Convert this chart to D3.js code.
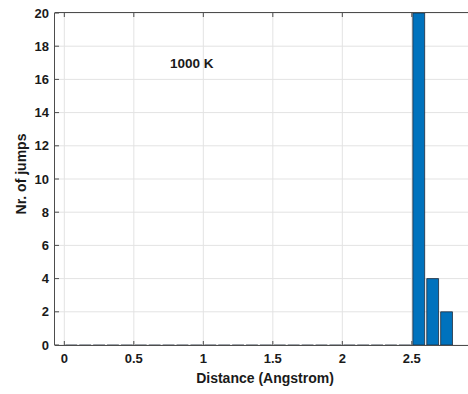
<!DOCTYPE html>
<html>
<head>
<meta charset="utf-8">
<script src="https://cdn.jsdelivr.net/npm/d3@7"></script>
<style>
  body { margin: 0; background: #fff; }
  svg text { font-family: "Liberation Sans", Arial, sans-serif; font-weight: bold; fill: #1a1a1a; }
</style>
</head>
<body>
<div id="chart"></div>
<script>
// histogram bins (Angstrom), width 0.1
var binStarts = [0, 0.1, 0.2, 0.3, 0.4, 0.5, 0.6, 0.7, 0.8, 0.9, 1.0, 1.1, 1.2, 1.3,
                 1.4, 1.5, 1.6, 1.7, 1.8, 1.9, 2.0, 2.1, 2.2, 2.3, 2.4, 2.5, 2.6, 2.7];
var counts = [0, 0, 0, 0, 0, 0, 0, 0, 0, 0, 0, 0, 0, 0,
              0, 0, 0, 0, 0, 0, 0, 0, 0, 0, 0, 20, 4, 2];
var binWidth = 0.1;
var xTicks = [0, 0.5, 1, 1.5, 2, 2.5];
var yTicks = [0, 2, 4, 6, 8, 10, 12, 14, 16, 18, 20];
var annotation = "1000 K";

var width = 468, height = 394,
    margin = { top: 13, right: -4, bottom: 49, left: 55 };

var svg = d3.select("#chart").append("svg")
    .attr("width", width).attr("height", height);

var x = d3.scaleLinear().domain([-0.067, 2.9]).range([margin.left, margin.left + (2.967 * 139)]);
var y = d3.scaleLinear().domain([0, 20]).range([height - margin.bottom, margin.top]);

var x0 = margin.left, x1 = width + 2, y0 = y(0), y1 = y(20);

// grid
svg.append("g").selectAll("line.gx").data(xTicks).enter().append("line")
    .attr("x1", d => x(d)).attr("x2", d => x(d))
    .attr("y1", y0).attr("y2", y1)
    .attr("stroke", "#e3e3e3").attr("stroke-width", 1);
svg.append("g").selectAll("line.gy").data(yTicks).enter().append("line")
    .attr("x1", x0).attr("x2", x1)
    .attr("y1", d => y(d)).attr("y2", d => y(d))
    .attr("stroke", "#e3e3e3").attr("stroke-width", 1);

// bars (0.85 of bin width, centred)
var barW = binWidth * 0.85;
svg.append("g").selectAll("path").data(counts).enter().append("path")
    .attr("d", function(d, i) {
        var c = binStarts[i] + binWidth / 2;
        var l = x(c - barW / 2), r = x(c + barW / 2);
        return "M" + l + "," + y(0) + "V" + y(d) + "H" + r + "V" + y(0) + (d > 0 ? "Z" : "");
    })
    .attr("fill", d => d > 0 ? "#0072BD" : "none")
    .attr("stroke", "#1f2b3a")
    .attr("stroke-width", 0.8);

// axes: box with inward ticks
var axisColor = "#4d4d4d";
var ax = svg.append("g");
ax.append("line").attr("x1", x0).attr("x2", x1).attr("y1", y0 + 0.5).attr("y2", y0 + 0.5)
    .attr("stroke", axisColor);
ax.append("line").attr("x1", x0).attr("x2", x1).attr("y1", y1 - 0.5).attr("y2", y1 - 0.5)
    .attr("stroke", axisColor);
ax.append("line").attr("x1", x0 - 0.5).attr("x2", x0 - 0.5).attr("y1", y1 - 0.5).attr("y2", y0 + 0.5)
    .attr("stroke", axisColor);

xTicks.forEach(function(t) {
    ax.append("line").attr("x1", x(t)).attr("x2", x(t)).attr("y1", y0).attr("y2", y0 - 4).attr("stroke", axisColor);
    ax.append("line").attr("x1", x(t)).attr("x2", x(t)).attr("y1", y1).attr("y2", y1 + 4).attr("stroke", axisColor);
    ax.append("text").attr("x", x(t)).attr("y", y0 + 18)
        .attr("text-anchor", "middle").attr("font-size", "13px").text(t);
});
yTicks.forEach(function(t) {
    ax.append("line").attr("x1", x0).attr("x2", x0 + 4).attr("y1", y(t)).attr("y2", y(t)).attr("stroke", axisColor);
    ax.append("text").attr("x", x0 - 6).attr("y", y(t) + 4.5)
        .attr("text-anchor", "end").attr("font-size", "13px").text(t);
});

// labels
svg.append("text").attr("x", 265).attr("y", 383)
    .attr("text-anchor", "middle").attr("font-size", "14px").text("Distance (Angstrom)");
svg.append("text").attr("transform", "translate(26,174) rotate(-90)")
    .attr("text-anchor", "middle").attr("font-size", "14px").text("Nr. of jumps");

svg.append("text").attr("x", x(0.76)).attr("y", y(16.7))
    .attr("font-size", "13.5px").text(annotation);
</script>
</body>
</html>
